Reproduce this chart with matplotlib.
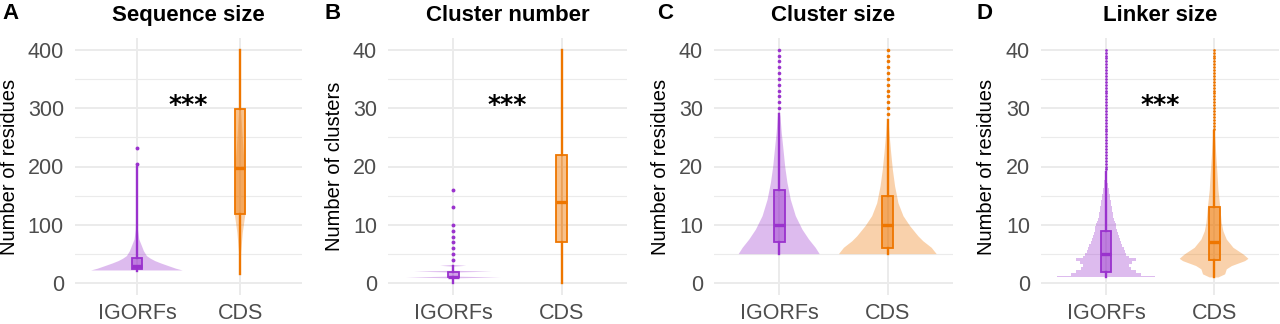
import matplotlib
matplotlib.use("Agg")
import matplotlib.pyplot as plt
import numpy as np
from matplotlib.ticker import FixedLocator

plt.rcParams['font.family'] = ['Liberation Sans', 'DejaVu Sans']

# ---------------- data ----------------
categories = ['IGORFs', 'CDS']
panel_letters = ['A', 'B', 'C', 'D']
titles = ['Sequence size', 'Cluster number', 'Cluster size', 'Linker size']
ylabels = ['Number of residues', 'Number of clusters', 'Number of residues', 'Number of residues']
yticks_A = [0, 100, 200, 300, 400]
yticks_BCD = [0, 10, 20, 30, 40]
sig_labels = ['***', '***', '', '***']

# violin half-width profiles (level, half-width in category units)
A_igorfs_vy = [22, 25, 29.5, 34, 38, 42, 46.6, 55, 63.6, 75, 92, 130, 200]
A_igorfs_vw = [0.443, 0.38, 0.307, 0.235, 0.178, 0.135, 0.097, 0.068, 0.049, 0.023, 0.010, 0.004, 0.0]
A_cds_vy = [16, 52, 86, 119, 150, 200, 250, 300, 350, 400]
A_cds_vw = [0.003, 0.010, 0.026, 0.052, 0.055, 0.045, 0.025, 0.008, 0.004, 0.002]

B_igorfs_vy = [0.85, 1.0, 1.15, 1.85, 2.0, 2.15, 2.85, 3.0, 3.15]
B_igorfs_vw = [0.0, 0.436, 0.0, 0.0, 0.36, 0.0, 0.0, 0.12, 0.0]
B_cds_vy = [0, 5, 10, 15, 20, 30, 40]
B_cds_vw = [0.004, 0.008, 0.009, 0.009, 0.008, 0.005, 0.002]

C_igorfs_vy = [5.0, 6.08, 7.5, 9.2, 11.5, 14.3, 17.2, 20.0, 22.8, 25.7, 28.5, 29.4]
C_igorfs_vw = [0.373, 0.336, 0.275, 0.214, 0.153, 0.107, 0.076, 0.055, 0.040, 0.024, 0.012, 0.003]
C_cds_vy = [5.0, 6.08, 7.2, 8.06, 9.8, 11.5, 13.7, 16.6, 19.5, 22.3, 25.1, 28.0]
C_cds_vw = [0.450, 0.404, 0.327, 0.281, 0.205, 0.144, 0.098, 0.067, 0.046, 0.031, 0.018, 0.006]

D_igorfs_vy = [1.0, 1.5, 2.0, 2.5, 3.0, 3.5, 4.0, 4.5, 5.0, 5.5, 6.0, 6.5, 7.0, 7.5, 8.0, 8.5,
               9.0, 9.5, 10.0, 10.5, 11.0, 11.5, 12.0, 12.5, 13.0, 13.5, 14.0, 14.5, 15.0,
               15.5, 16.0, 16.5, 17.0, 17.5, 18.0, 18.5, 19.0]
D_igorfs_vw = [0.454, 0.32, 0.28, 0.23, 0.21, 0.24, 0.275, 0.21, 0.19, 0.175, 0.163, 0.152,
               0.142, 0.13, 0.12, 0.112, 0.105, 0.097, 0.09, 0.082, 0.075, 0.068, 0.063, 0.058,
               0.053, 0.048, 0.043, 0.039, 0.035, 0.030, 0.026, 0.022, 0.018, 0.014, 0.010,
               0.007, 0.004]
D_cds_vy = [1.0, 1.53, 2.39, 2.95, 3.8, 4.2, 4.94, 6.08, 7.5, 8.9, 10.3, 13.2, 16.0, 18.9, 21.7, 24.5, 25.7]
D_cds_vw = [0.040, 0.102, 0.117, 0.164, 0.287, 0.318, 0.272, 0.179, 0.117, 0.086, 0.071, 0.056,
            0.040, 0.031, 0.021, 0.012, 0.006]

# box statistics: q1, median, q3, lower whisker, upper whisker
A_igorfs_box = [24, 30, 44, 21, 200]
A_cds_box = [119, 198, 298, 16, 400]
B_igorfs_box = [1, 1, 2, 0, 3]
B_cds_box = [7, 14, 22, 0, 40]
C_igorfs_box = [7, 10, 16, 5, 29]
C_cds_box = [6, 10, 15, 5, 28]
D_igorfs_box = [2, 5, 9, 1, 19]
D_cds_box = [4, 7, 13, 1, 26]

# outliers
A_igorfs_out = [204, 232]
A_cds_out = []
B_igorfs_out = [4, 5, 6, 7, 8, 9, 10, 13, 16]
B_cds_out = []
C_igorfs_out = [30, 31, 32, 33, 34, 35, 36, 37, 38, 39, 40]
C_cds_out = [29, 30, 31, 32, 33, 34, 35, 36, 37, 38, 39, 40]
D_igorfs_out = [19.5, 20, 20.5, 21, 21.5, 22, 22.5, 23, 23.5, 24, 24.5, 25, 25.5, 26, 26.5,
                27, 27.5, 28, 28.5, 29, 29.5, 30, 30.5, 31, 31.5, 32, 32.5, 33, 33.5, 34,
                34.5, 35, 35.5, 36, 36.5, 37, 37.5, 38, 38.5, 39, 39.5, 40]
D_cds_out = [26.5, 27, 27.5, 28, 28.5, 29, 29.5, 30, 30.5, 31, 31.5, 32, 32.5, 33, 33.5, 34,
             34.5, 35, 35.5, 36, 36.5, 37, 37.5, 38, 38.5, 39, 39.5, 40]

# ---------------- style ----------------
PURPLE = '#9A32CD'
ORANGE = '#EE7600'
colors = [PURPLE, ORANGE]
GRID = '#EBEBEB'

panels = [
    dict(vy=[A_igorfs_vy, A_cds_vy], vw=[A_igorfs_vw, A_cds_vw], box=[A_igorfs_box, A_cds_box],
         out=[A_igorfs_out, A_cds_out], yticks=yticks_A, step=[False, False], ms=2.8),
    dict(vy=[B_igorfs_vy, B_cds_vy], vw=[B_igorfs_vw, B_cds_vw], box=[B_igorfs_box, B_cds_box],
         out=[B_igorfs_out, B_cds_out], yticks=yticks_BCD, step=[False, False], ms=2.8),
    dict(vy=[C_igorfs_vy, C_cds_vy], vw=[C_igorfs_vw, C_cds_vw], box=[C_igorfs_box, C_cds_box],
         out=[C_igorfs_out, C_cds_out], yticks=yticks_BCD, step=[False, False], ms=2.6),
    dict(vy=[D_igorfs_vy, D_cds_vy], vw=[D_igorfs_vw, D_cds_vw], box=[D_igorfs_box, D_cds_box],
         out=[D_igorfs_out, D_cds_out], yticks=yticks_BCD, step=[True, False], ms=2.0),
]

W, H = 1280, 324
fig = plt.figure(figsize=(W / 100, H / 100), dpi=100)

ax_px = [(75, 302), (388, 627), (714, 953), (1041, 1279)]
ylab_px = [10, 334, 660, 986]
letter_px = [2, 325, 657, 977]
top_px, bot_px = 38, 295

for i, p in enumerate(panels):
    l, r = ax_px[i]
    ax = fig.add_axes([l / W, (H - bot_px) / H, (r - l) / W, (bot_px - top_px) / H])
    ymax = p['yticks'][-1]
    ax.set_xlim(0.4, 2.6)
    ax.set_ylim(-0.05 * ymax, 1.05 * ymax)
    ax.set_axisbelow(True)
    ax.yaxis.set_major_locator(FixedLocator(p['yticks']))
    minors = [(a + b) / 2 for a, b in zip(p['yticks'][:-1], p['yticks'][1:])]
    ax.yaxis.set_minor_locator(FixedLocator(minors))
    ax.set_xticks([1, 2])
    ax.set_xticklabels(categories)
    ax.grid(which='major', color=GRID, linewidth=1.4)
    ax.grid(which='minor', axis='y', color=GRID, linewidth=0.8)
    for s in ax.spines.values():
        s.set_visible(False)
    ax.tick_params(which='both', length=0, labelsize=15.5, labelcolor='#4D4D4D')
    ax.tick_params(axis='y', pad=8)
    ax.tick_params(axis='x', pad=5.5)

    for j in range(2):
        c = colors[j]
        pos = j + 1
        vy = np.array(p['vy'][j], dtype=float)
        vw = np.array(p['vw'][j], dtype=float)
        if p['step'][j]:
            ax.fill_betweenx(vy, pos - vw, pos + vw, step='mid', facecolor=c, alpha=0.33,
                             edgecolor='none', zorder=2)
        else:
            yy = np.linspace(vy.min(), vy.max(), 400)
            ww = np.interp(yy, vy, vw)
            ax.fill_betweenx(yy, pos - ww, pos + ww, facecolor=c, alpha=0.33,
                             edgecolor='none', zorder=2)
        q1, med, q3, wlo, whi = p['box'][j]
        stats = [dict(q1=q1, med=med, q3=q3, whislo=wlo, whishi=whi, fliers=p['out'][j])]
        ax.bxp(stats, positions=[pos], widths=0.1, patch_artist=True, showcaps=False,
               boxprops=dict(facecolor=(matplotlib.colors.to_rgba(c, 0.45)), edgecolor=c, linewidth=1.3),
               medianprops=dict(color=c, linewidth=2.4),
               whiskerprops=dict(color=c, linewidth=1.7),
               flierprops=dict(marker='o', markersize=p['ms'], markerfacecolor=c,
                               markeredgecolor='none', linestyle='none'),
               zorder=3, manage_ticks=False)

    if sig_labels[i]:
        ax.text(1.5, 0.762 * ymax, sig_labels[i], ha='center', va='center', fontsize=18,
                fontweight='bold', color='black', zorder=5, family='DejaVu Sans')

    ax.set_title(titles[i], fontsize=16, fontweight='bold', pad=12)
    ax.set_ylabel(ylabels[i], fontsize=14.5, color='black', va='center')
    ax.yaxis.set_label_coords((ylab_px[i] - l) / (r - l), 0.5)
    fig.text(letter_px[i] / W, 1 - 13.5 / H, panel_letters[i], fontsize=16, fontweight='bold',
             ha='left', va='center')

fig.savefig('out.png', dpi=100)
